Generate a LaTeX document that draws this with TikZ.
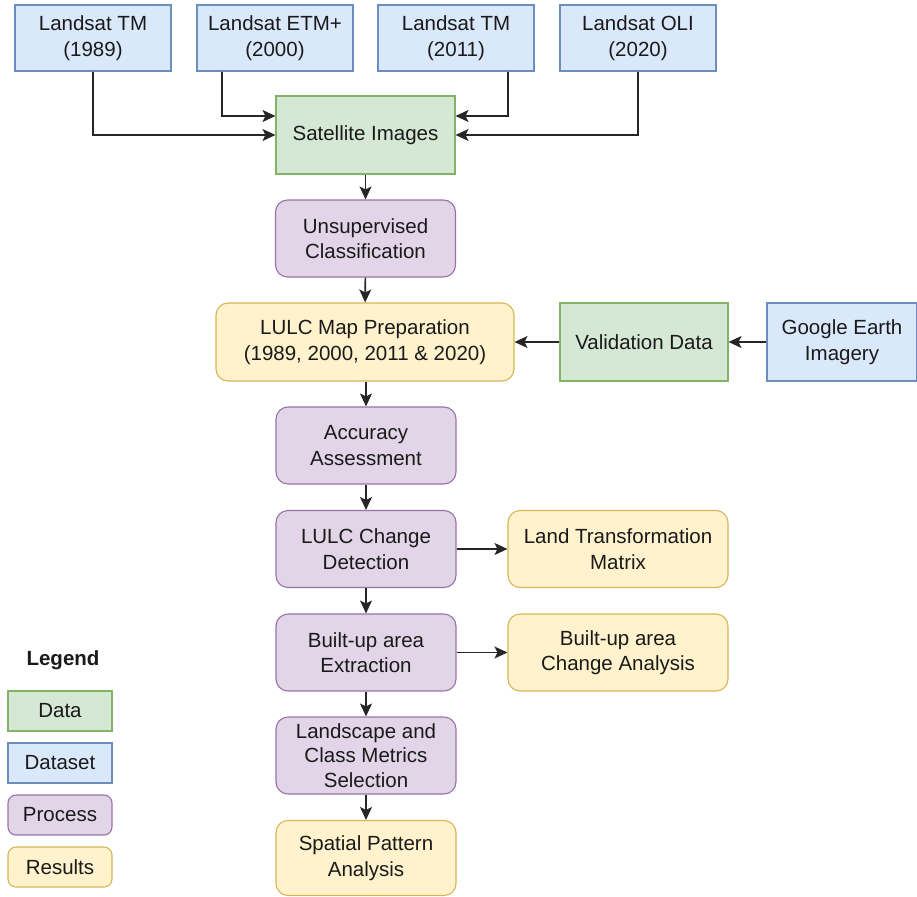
\documentclass[tikz,border=0pt]{standalone}
\usepackage{fontspec}
\setmainfont{Liberation Sans}
\usetikzlibrary{arrows.meta}
\definecolor{bfill}{HTML}{DAE8FC}\definecolor{bline}{HTML}{6C8EBF}
\definecolor{gfill}{HTML}{D5E8D4}\definecolor{gline}{HTML}{82B366}
\definecolor{pfill}{HTML}{E1D5E7}\definecolor{pline}{HTML}{9673A6}
\definecolor{yfill}{HTML}{FFF2CC}\definecolor{yline}{HTML}{D6B656}
\definecolor{txt}{HTML}{1A1A1A}
\begin{document}
\begin{tikzpicture}[x=1pt,y=-1pt,
  base/.style={draw, line width=1.1pt, align=center, inner sep=0pt, text=txt,
    font=\fontsize{20.5}{25.5}\selectfont},
  dsbox/.style={base, fill=bfill, draw=bline},
  databox/.style={base, fill=gfill, draw=gline},
  procbox/.style={base, fill=pfill, draw=pline, rounded corners=12pt},
  resbox/.style={base, fill=yfill, draw=yline, rounded corners=12pt},
  conn/.style={line width=1.6pt, draw=black!85, -{Stealth[length=13pt,width=12pt,inset=3pt]}}]
\useasboundingbox (0,0) rectangle (917,896);
% top datasets
\node[dsbox, minimum width=156pt, minimum height=66pt] (d1) at (93,38) {Landsat TM\\(1989)};
\node[dsbox, minimum width=156pt, minimum height=66pt] (d2) at (275,38) {Landsat ETM+\\(2000)};
\node[dsbox, minimum width=156pt, minimum height=66pt] (d3) at (456,38) {Landsat TM\\(2011)};
\node[dsbox, minimum width=156pt, minimum height=66pt] (d4) at (638,38) {Landsat OLI\\(2020)};
% main column
\node[databox, minimum width=179pt, minimum height=78pt] (sat) at (365.5,135) {Satellite Images};
\node[procbox, minimum width=180pt, minimum height=77pt] (uns) at (365.5,238.5) {Unsupervised\\Classification};
\node[resbox, minimum width=298pt, minimum height=78pt] (lulc) at (365,342) {LULC Map Preparation\\(1989, 2000, 2011 \& 2020)};
\node[databox, minimum width=168pt, minimum height=78pt] (val) at (644,342) {Validation Data};
\node[dsbox, minimum width=150pt, minimum height=78pt] (ge) at (842,342) {Google Earth\\Imagery};
\node[procbox, minimum width=180pt, minimum height=77pt] (acc) at (366,445.5) {Accuracy\\Assessment};
\node[procbox, minimum width=180pt, minimum height=77pt] (chg) at (366,549) {LULC Change\\Detection};
\node[resbox, minimum width=220pt, minimum height=77pt] (ltm) at (618,549) {Land Transformation\\Matrix};
\node[procbox, minimum width=180pt, minimum height=77pt] (bu) at (366,652.5) {Built-up area\\Extraction};
\node[resbox, minimum width=220pt, minimum height=77pt] (buc) at (618,652.5) {Built-up area\\Change Analysis};
\node[procbox, minimum width=180pt, minimum height=77pt, font=\fontsize{20.5}{24.5}\selectfont] (land) at (366,755.5) {Landscape and\\Class Metrics\\Selection};
\node[resbox, minimum width=180pt, minimum height=75pt] (sp) at (366,858) {Spatial Pattern\\Analysis};
% legend
\node[base, draw=none, font=\fontsize{20.5}{24.5}\selectfont\bfseries] (leg) at (63,660) {Legend};
\node[databox, minimum width=104pt, minimum height=40pt] (l1) at (60,711) {Data};
\node[dsbox, minimum width=104pt, minimum height=40pt] (l2) at (60,763) {Dataset};
\node[procbox, rounded corners=8pt, minimum width=104pt, minimum height=40pt] (l3) at (60,815) {Process};
\node[resbox, rounded corners=8pt, minimum width=104pt, minimum height=40pt] (l4) at (60,867) {Results};
% connectors
\draw[conn] (d1.south) |- (sat.west);
\draw[conn] ([xshift=-53pt]d2.south) |- ([yshift=19pt]sat.west);
\draw[conn] ([xshift=52pt]d3.south) |- ([yshift=19pt]sat.east);
\draw[conn] (d4.south) |- (sat.east);
\draw[conn] (sat) -- (uns);
\draw[conn] (uns) -- (lulc);
\draw[conn] (ge) -- (val);
\draw[conn] (val) -- (lulc);
\draw[conn] (lulc.south -| acc) -- (acc);
\draw[conn] (acc) -- (chg);
\draw[conn] (chg) -- (ltm);
\draw[conn] (chg) -- (bu);
\draw[conn] (bu) -- (buc);
\draw[conn] (bu) -- (land);
\draw[conn] (land) -- (sp);
\end{tikzpicture}
\end{document}
